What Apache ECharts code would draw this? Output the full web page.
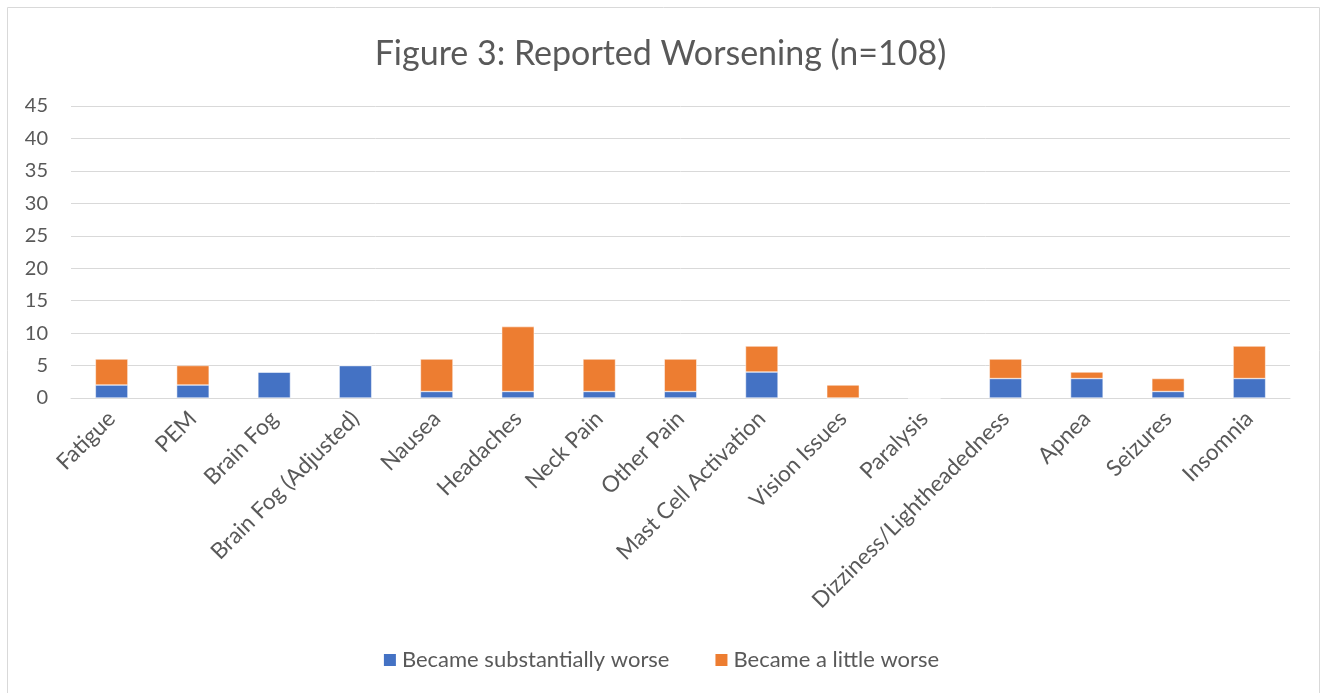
<!DOCTYPE html>
<html><head><meta charset="utf-8">
<script src="https://cdn.jsdelivr.net/npm/echarts@6/dist/echarts.min.js"></script>
<style>html,body{margin:0;padding:0;background:#fff}#c{width:1321px;height:693px}</style>
</head><body><div id="c"></div>
<script>
const categories = ["Fatigue","PEM","Brain Fog","Brain Fog (Adjusted)","Nausea","Headaches","Neck Pain","Other Pain","Mast Cell Activation","Vision Issues","Paralysis","Dizziness/Lightheadedness","Apnea","Seizures","Insomnia"];
const substantiallyWorse = [2,2,4,5,1,1,1,1,4,0,0,3,3,1,3];
const littleWorse = [4,3,0,0,5,10,5,5,4,2,0,3,1,2,5];
const yTicks = [0,5,10,15,20,25,30,35,40,45];
const seriesNames = ["Became substantially worse","Became a little worse"];

const font = "Lato, 'Open Sans', sans-serif";
const chart = echarts.init(document.getElementById('c'), null, {renderer:'canvas'});
chart.setOption({
  animation:false,
  title:{text:'Figure 3: Reported Worsening (n=108)', left:'center', top:32,
    textStyle:{fontFamily:font, fontSize:34, fontWeight:'normal', color:'#595959'}},
  graphic:[{type:'rect', shape:{x:7.5,y:7.5,width:1312,height:700}, style:{fill:'none', stroke:'#d9d9d9', lineWidth:1}, silent:true}],
  legend:{top:644, left:'center', itemWidth:14, itemHeight:14, itemGap:44, icon:'rect',
    textStyle:{fontFamily:font, fontSize:22, color:'#595959'}, data:seriesNames},
  grid:{left:71, right:31, top:106, bottom:295, containLabel:false},
  xAxis:{type:'category', data:categories,
    axisLine:{lineStyle:{color:'#d9d9d9', width:1}}, axisTick:{show:false},
    axisLabel:{rotate:45, interval:0, fontFamily:font, fontSize:22.5, color:'#595959', margin:17}},
  yAxis:{type:'value', min:0, max:45, interval:5,
    axisLine:{show:false}, axisTick:{show:false},
    splitLine:{lineStyle:{color:'#d9d9d9', width:1}},
    axisLabel:{fontFamily:font, fontSize:20, color:'#595959', margin:23,
      formatter: v => yTicks.includes(v) ? String(v) : ''}},
  series:[
    {name:seriesNames[0], type:'bar', stack:'s', data:substantiallyWorse, barWidth:'40%',
      itemStyle:{color:'#4472c4', borderColor:'#fff', borderWidth:0.5}},
    {name:seriesNames[1], type:'bar', stack:'s', data:littleWorse, barWidth:'40%',
      itemStyle:{color:'#ed7d31', borderColor:'#fff', borderWidth:0.5}}
  ]
});
</script></body></html>
